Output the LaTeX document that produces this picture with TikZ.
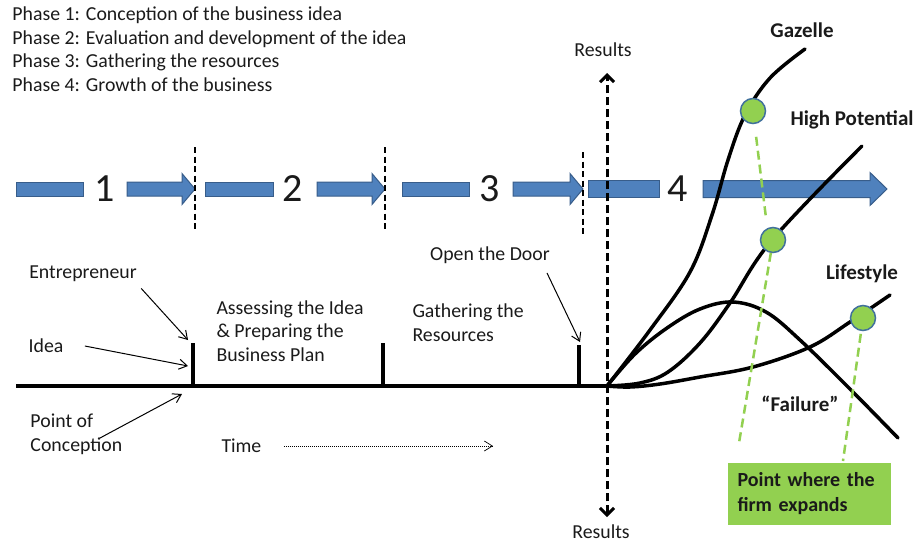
\documentclass[tikz,border=0pt]{standalone}
\usepackage{fontspec}
\setmainfont{Carlito}
\usepackage{xcolor}
\definecolor{phasefill}{HTML}{4F81BD}
\definecolor{phaseline}{HTML}{385D8A}
\definecolor{expgreen}{HTML}{92D050}
\definecolor{dotline}{HTML}{41719C}
\definecolor{ink}{HTML}{1A1A1A}
\usepackage{tikz}
\usetikzlibrary{positioning}
\usetikzlibrary{arrows.meta}
\usetikzlibrary{calc}

% blue phase pieces, all on the row y=189
\newcommand{\phasebar}[3]{% from, to, half thickness
  \filldraw[phase] (#1,{189-#3}) rectangle (#2,{189+#3});}
\newcommand{\phasearrow}[5]{% from, head start, tip, half shaft, half head
  \filldraw[phase] (#1,{189-#4}) -- (#2,{189-#4}) -- (#2,{189-#5}) -- (#3,189)
    -- (#2,{189+#5}) -- (#2,{189+#4}) -- (#1,{189+#4}) -- cycle;}

\begin{document}
\begin{tikzpicture}[x=1pt,y=-1pt,every node/.style={inner sep=1,outer sep=0.5,text=ink,font=\fontsize{19.8}{23.7}\selectfont},
    legend/.style={anchor=north west,text height=15pt,text depth=5pt},
    phase/.style={fill=phasefill,draw=phaseline,line width=1},
    digit/.style={font=\fontsize{40}{48}\selectfont},
    sep/.style={line width=2.2,dash pattern=on 6pt off 3.5pt},
    axis/.style={line width=3,dash pattern=on 8pt off 4pt,{Straight Barb[length=7pt,width=14pt]}-{Straight Barb[length=7pt,width=14pt]}},
    timeline/.style={line width=4},
    tick/.style={line width=3.5},
    note/.style={line width=1,-{Straight Barb[length=8pt,width=10pt]}},
    curve/.style={line width=3.5,line cap=round},
    curvename/.style={font=\fontsize{21}{25}\selectfont\bfseries},
    dot/.style={circle,fill=expgreen,draw=dotline,line width=1.5,minimum size=25,inner sep=0},
    expline/.style={expgreen,line width=2.5,dash pattern=on 9pt off 5pt},
    expandbox/.style={fill=expgreen,align=left,text width=143pt,inner sep=10,minimum height=58,font=\fontsize{20}{25}\selectfont\bfseries}]
    \useasboundingbox (0,0) rectangle (918,544);

    % the four phases
    \node (L1) [legend] at (11,4) {Phase 1: Conception of the business idea};
    \node (L2) [legend,below=0.7pt of L1.south west,anchor=north west] {Phase 2: Evaluation and development of the idea};
    \node (L3) [legend,below=0.7pt of L2.south west,anchor=north west] {Phase 3: Gathering the resources};
    \node (L4) [legend,below=0.7pt of L3.south west,anchor=north west] {Phase 4: Growth of the business};

    % blue arrow row
    \foreach \a/\b/\c/\d/\e in {16/83/127/182/195,205/273/317/372/385,402/469/513/570/583}{
        \phasebar{\a}{\b}{7}
        \phasearrow{\c}{\d}{\e}{7}{15.5}}
    \phasebar{588}{659}{8.5}
    \phasearrow{703}{870}{887}{8.5}{16.5}
    \node (N1) [digit] at (105,189) {1};
    \node (N2) [digit] at (293,189) {2};
    \node (N3) [digit] at (490,189) {3};
    \node (N4) [digit] at (678,189) {4};
    \foreach \x/\a/\b in {195/147/230,385/147/230,583/152/237}
        \draw[sep] (\x,\a) -- (\x,\b);

    % time line
    \coordinate (O) at (607,386);
    \coordinate (t1) at (193,343);
    \coordinate (t2) at (383,343);
    \coordinate (t3) at (579,345);
    \draw[timeline] (16,386) -- (O);
    \foreach \t in {t1,t2,t3}
        \draw[tick] (\t) -- (\t |- O);

    % results axis
    \node (Rtop) at (603,50) {Results};
    \node (Rbot) at (601,532) {Results};
    \coordinate (A1) at (607,73);
    \coordinate (A2) at (607,517);
    \draw[axis] (A2) -- (A1);

    % milestones
    \node (entr) at (83,274) {Entrepreneur};
    \node (idea) at (46,346) {Idea};
    \node (poc) [anchor=west,align=left] at (29,434) {Point of\\Conception};
    \node (assess) [anchor=west,align=left] at (215,331) {Assessing the Idea\\\& Preparing the\\Business Plan};
    \node (gather) [anchor=west,align=left] at (411,323) {Gathering the\\Resources};
    \node (door) at (490,255) {Open the Door};
    \node (time) [anchor=west] at (220,446) {Time};
    \coordinate (tend) at (493,446);
    \draw[note] ($(entr.south east)+(3,5)$) -- ($(t1)+(-5,-3)$);
    \draw[note] ($(idea.east)+(20,0)$) -- ($(t1)+(-5,23)$);
    \draw[note] ($(poc.west)+(71,4)$) -- ($(t1)+(-11,51)$);
    \draw[note] ($(door.south)+(57,8)$) -- ($(t3)+(1,-3)$);
    \draw[note,line width=0.7,dash pattern=on 1pt off 1pt] ($(time.east)+(21,0)$) -- (tend);

    % growth paths
    \draw[curve] plot[smooth,tension=0.6] coordinates {(O) (650,330) (690,272) (712,215) (728,160) (745,115) (770,78) (805,49)};
    \draw[curve] plot[smooth,tension=0.6] coordinates {(O) (640,383) (668,372) (700,343) (730,303) (772,240) (862,146)};
    \draw[curve] plot[smooth,tension=0.6] coordinates {(O) (635,354) (667,328) (700,309) (733,302) (766,312) (800,340) (850,389) (898,438)};
    \draw[curve] plot[smooth,tension=0.6] coordinates {(O) (630,387) (660,384) (700,377) (753,367) (810,347) (850,322) (890,295)};

    \node (gz) [curvename] at (802,30) {Gazelle};
    \node (hp) [curvename] at (852,120) {High Potential};
    \node (ls) [curvename] at (862,274) {Lifestyle};
    \node (fl) [curvename] at (800,404) {“Failure”};

    % where the firm expands
    \node (expand) [expandbox,anchor=north west] at (727,462) {Point where the\\firm expands};
    \coordinate (e1) at (766,218);
    \coordinate (e2) at (739,443);
    \coordinate (e3) at (843,461);
    \node (c1) [dot] at (753,111) {};
    \node (c2) [dot] at (773,240) {};
    \node (c3) [dot] at (863,318) {};
    \draw[expline,shorten <=26pt] (c1.center) -- (e1);
    \draw[expline,shorten <=13pt] (c2.center) -- (e2);
    \draw[expline,shorten <=16pt] (c3.center) -- (e3);
\end{tikzpicture}
\end{document}
